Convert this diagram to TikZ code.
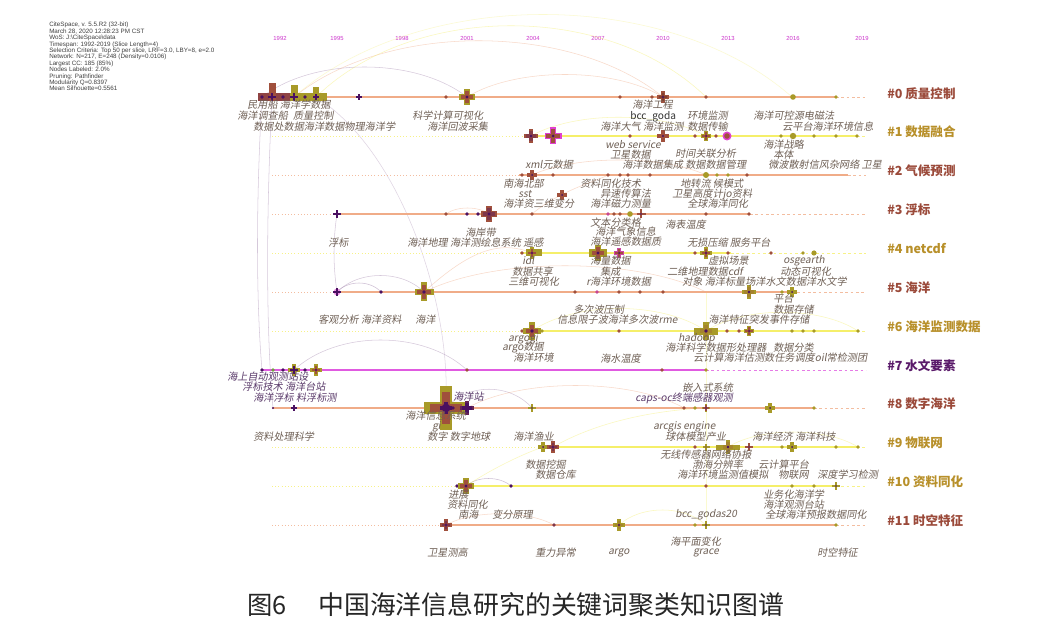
\documentclass[tikz,border=0pt]{standalone}
\usepackage{fontspec}
\setmainfont{Liberation Sans}
\newfontfamily\cjk{Noto Sans CJK SC}
\newfontfamily\labfont{Noto Sans CJK SC}[FakeSlant=0.18]
\definecolor{cS}{HTML}{F0AC88}
\definecolor{cY}{HTML}{F5EF6A}
\definecolor{cM}{HTML}{E05AE0}
\definecolor{cB}{HTML}{A0503C}
\definecolor{cO}{HTML}{A89A28}
\definecolor{cP}{HTML}{4A1060}
\definecolor{cMg}{HTML}{E040D0}
\definecolor{cG}{HTML}{70A040}
\definecolor{labc}{HTML}{6F6055}
\definecolor{labp}{HTML}{5A3A6A}
\definecolor{yrc}{HTML}{CC33CC}
\definecolor{hB}{HTML}{9B4A3A}
\definecolor{hO}{HTML}{B8902A}
\definecolor{hP}{HTML}{5A1A6A}
\newcounter{kwn}
\def\kr{0.32}
\newcommand\kw[4][labc]{\stepcounter{kwn}\node[kwlab,text=#1] (kw\arabic{kwn}) at (#2,#3) {#4};}
\newcommand\kcross[4]{\fill[#4] ({#1-(#3)},{#2-\kr*(#3)}) rectangle ({#1+(#3)},{#2+\kr*(#3)});
  \fill[#4] ({#1-\kr*(#3)},{#2-(#3)}) rectangle ({#1+\kr*(#3)},{#2+(#3)});}
\newcommand\kbig[5]{\kcross{#1}{#2}{#3}{#4}\kcross{#1}{#2}{0.72*(#3)}{#5}\fill[cP] (#1,#2) circle ({0.2*(#3)});}
\newcommand\kdot[3]{\fill[#3] (#1,#2) circle (1.8);}
\newcommand\krow[5]{\draw[#4!80,line width=0.4pt,dotted] (272,#1) -- (#2,#1);
  \draw[#4,line width=#5] (#2,#1) -- (#3,#1);
  \draw[#4!80,line width=0.4pt,dash pattern=on 2pt off 2pt] (#3,#1) -- (866,#1);}
\newcommand\karc[6]{\draw[arcline,#6] (#1,#2) .. controls ({#1+0.25*(#3-#1)},{#2-#5}) and ({#3-0.25*(#3-#1)},{#4-#5}) .. (#3,#4);}
\begin{document}
\begin{tikzpicture}[x=0.75pt,y=-0.75pt,
  kwlab/.style={anchor=west,inner sep=0pt,font=\labfont\fontsize{7.6}{8}\selectfont},
  hd/.style={anchor=west,inner sep=0pt,font=\cjk\bfseries\fontsize{9.4}{10}\selectfont},
  yr/.style={inner sep=0pt,font=\fontsize{4.4}{5}\selectfont,text=yrc},
  arcline/.style={line width=0.4pt,opacity=0.45}]
\useasboundingbox[fill=white] (0,0) rectangle (1060,620);

% header
\node[anchor=north west,align=left,inner sep=0pt,font=\fontsize{4.7}{4.8}\selectfont,text=black!75] (hdr) at (49,22)
{CiteSpace, v. 5.5.R2 (32-bit)\\March 28, 2020 12:28:23 PM CST\\WoS: J:\textbackslash CiteSpace\textbackslash data\\Timespan: 1992-2019 (Slice Length=4)\\Selection Criteria: Top 50 per slice, LRF=3.0, LBY=8, e=2.0\\Network: N=217, E=248 (Density=0.0106)\\Largest CC: 185 (85\%)\\Nodes Labeled: 2.0\%\\Pruning: Pathfinder\\Modularity Q=0.8397\\Mean Silhouette=0.5561};

% years
\foreach \yy/\xx in {1992/280,1995/337,1998/402,2001/467,2004/533,2007/598,2010/663,2013/728,2016/793,2019/862}
  \node[yr] (y\yy) at (\xx,38) {\yy};

% arcs
\karc{262}{97}{467}{97}{40}{cP!50}
\karc{294}{97}{663}{97}{75}{cS}
\karc{316}{97}{706}{97}{95}{cY}
\karc{294}{97}{792}{97}{110}{cY!70}
\karc{467}{97}{663}{97}{30}{cS}
\karc{531}{136}{706}{136}{25}{cY}
\karc{532}{175}{706}{175}{20}{cS}
\karc{337}{292}{381}{292}{12}{cP!60}
\karc{337}{292}{424}{292}{22}{cP!50}
\karc{446}{214}{489}{214}{8}{cS}
\karc{446}{408}{532}{408}{25}{cP!50}
\karc{467}{408}{684}{408}{30}{cS}
\karc{294}{370}{467}{370}{40}{cP!50}
\karc{466}{486}{511}{486}{10}{cP!60}
\karc{446}{525}{554}{525}{15}{cS}
\karc{619}{525}{706}{525}{20}{cY}
\karc{706}{331}{858}{331}{25}{cY}
\karc{728}{447}{858}{447}{20}{cY}
\karc{532}{331}{706}{331}{30}{cY}
\karc{424}{292}{706}{292}{35}{cS}
\draw[arcline,cS] (424,292) .. controls (470,250) and (500,240) .. (532,253);
\draw[arcline,cY] (466,486) .. controls (490,470) and (520,455) .. (543,447);
\draw[arcline,cP!50] (262,97) .. controls (256,200) and (256,300) .. (262,370);
\draw[arcline,cP!50] (272,97) .. controls (266,220) and (266,330) .. (273,408);
\draw[arcline,cP!50] (337,214) .. controls (333,240) and (333,265) .. (337,292);
\draw[arcline,cP!40] (316,97) .. controls (400,150) and (450,300) .. (446,400);
\draw[arcline,cY!70] (706,292) -- (706,525);
\draw[arcline,cY] (553,447) .. controls (600,420) and (660,410) .. (706,408);
\draw[arcline,cS] (532,214) .. controls (560,190) and (600,180) .. (608,175);

% rows
\krow{97}{258}{836}{cS}{1.4pt}
\krow{136}{531}{857}{cY}{2.2pt}
\krow{175}{519}{848}{cS}{1.4pt}
\krow{214}{337}{750}{cS}{1.4pt}
\krow{253}{520}{731}{cY}{2.2pt}
\krow{292}{337}{792}{cS}{1.4pt}
\krow{331}{525}{857}{cY}{2.2pt}
\krow{370}{261}{706}{cM}{1.4pt}
\krow{408}{273}{814}{cS}{1.4pt}
\krow{447}{540}{857}{cY}{2.2pt}
\krow{486}{456}{836}{cY}{2.2pt}
\krow{525}{446}{836}{cS}{1.4pt}

% row 0 nodes
\fill[cB!80!cP] (258,93) rectangle (292,101);
\fill[cO] (290,93) rectangle (327,101);
\fill[cB] (269,83) rectangle (276,101);
\fill[cO] (291,85) rectangle (298,101);
\fill[cO] (313,87) rectangle (319,101);
\kcross{272}{97}{4}{cP}\kcross{294}{97}{4}{cP}\kcross{316}{97}{3}{cP}
\kdot{262}{97}{cP}\kdot{283}{97}{cP}\kdot{305}{97}{cP}
\kcross{359}{97}{3}{cP}
\kdot{446}{97}{cB}
\kbig{467}{97}{8}{cO}{cB}
\kdot{620}{97}{cB}\kdot{652}{97}{cB}
\kbig{663}{97}{6}{cB}{cB!80!black}
\kdot{706}{97}{cB}
\fill[cO] (793,97) circle (2.8);
\kdot{836}{97}{cO}
% row 1
\kbig{531}{136}{7}{cB}{cB!70!cP}
\kcross{553}{136}{8.5}{cMg}\kcross{553}{136}{7}{cB}\fill[cP] (553,136) circle (1.5);
\kdot{630}{136}{cB}
\kbig{663}{136}{6}{cB}{cB}
\kdot{695}{136}{cB}
\kbig{706}{136}{5}{cO}{cB}
\kdot{716}{136}{cB}
\fill[cMg] (727,136) circle (4.5); \fill[cB] (727,136) circle (2.8);
\kdot{781}{136}{cO}
\fill[cO] (793,136) circle (3.2);
\kdot{814}{136}{cO}\kdot{836}{136}{cO}\kdot{857}{136}{cO}
% row 2
\kdot{522}{175}{cB}\kbig{532}{175}{5}{cB}{cB}\kdot{553}{175}{cB}
\kdot{608}{175}{cB}\kdot{620}{175}{cB}\kdot{628}{175}{cB}\kdot{650}{175}{cB}
\fill[cO] (706,175) circle (3);
\kdot{717}{175}{cO}\kdot{728}{175}{cO}\kdot{747}{175}{cB}
\kbig{562}{195}{5}{cB}{cB}
% row 3
\kcross{337}{214}{4}{cP}
\kdot{446}{214}{cB}\kdot{467}{214}{cP}\kdot{478}{214}{cP}
\kbig{489}{214}{8}{cB}{cB!60!cP}
\kdot{532}{214}{cB}\kdot{608}{214}{cMg!60!cB}\kdot{614}{214}{cB}\kdot{620}{214}{cB}
\fill[cO] (630,214) circle (2.8);
\kbig{641}{214}{4.5}{cB}{cB}
\kdot{706}{214}{cB}\kdot{749}{214}{cB}
% row 4
\kdot{522}{253}{cB}
\fill[cO] (526,249.5) rectangle (542,256.5);
\kbig{532}{253}{6}{cO}{cB}
\fill[cO] (589,249) rectangle (607,257);
\kbig{598}{253}{8}{cO}{cB}
\kbig{619}{253}{5}{cMg!70!cB}{cB}
\kdot{695}{253}{cB}
\kbig{706}{253}{6}{cO}{cB}
\kdot{728}{253}{cB}\kdot{771}{253}{cB}\kdot{803}{253}{cO}
\fill[cO] (814,253) circle (2.6);
% row 5
\fill[cMg!60] (337,292) circle (3.5);
\kcross{337}{292}{4}{cP}
\kdot{381}{292}{cP}
\kbig{424}{292}{9.5}{cO}{cB}
\kdot{575}{292}{cB}\kdot{597}{292}{cMg!60!cB}\kdot{619}{292}{cB}\kdot{640}{292}{cB}\kdot{663}{292}{cB}
\kbig{749}{292}{7}{cO}{cO!70!cB}
\kdot{782}{292}{cO}
\kbig{792}{292}{5}{cO}{cO}
% row 6
\kdot{522}{331}{cB}
\kbig{532}{331}{9}{cO}{cB}
\kdot{542}{331}{cO}\kdot{619}{331}{cB}\kdot{697}{331}{cB}
\fill[cO] (694,327.5) rectangle (718,334.5);
\kbig{706}{331}{9}{cO}{cO!70!cB}
\kdot{727}{331}{cB}\kdot{739}{331}{cB}
\kbig{749}{331}{5}{cO}{cB}
\kdot{792}{331}{cO}\kdot{803}{331}{cO}\kdot{814}{331}{cO}\kdot{858}{331}{cO}
% row 7
\kdot{262}{370}{cP}\kdot{273}{370}{cG}\kdot{283}{370}{cP}
\kbig{294}{370}{6}{cO}{cP}
\kdot{305}{370}{cP}
\kbig{316}{370}{6}{cO}{cB}
\kdot{467}{370}{cB}\kdot{662}{370}{cB}\kdot{706}{370}{cO}
% row 8
\fill[cP] (273,408) circle (1.2);
\kcross{294}{408}{3}{cP}
{\def\kr{0.27}\kbig{446}{408}{22}{cO}{cB}}
\kcross{446}{408}{6}{cP}
\kbig{467}{408}{7}{cP!70!cB}{cP}
\kdot{453}{408}{cP}
\kbig{532}{408}{4}{cO}{cO}
\kdot{684}{408}{cB}\kdot{695}{408}{cO}
\kbig{706}{408}{4}{cO}{cB}
\kbig{770}{408}{5}{cO}{cO}
\kdot{814}{408}{cO}
% row 9
\kbig{543}{447}{5}{cO}{cO}
\kbig{553}{447}{6}{cB}{cB!60!cP}
\kdot{695}{447}{cB}
\kbig{706}{447}{3.5}{cO}{cO}
\fill[cO] (716,444.5) rectangle (740,449.5);
\kbig{728}{447}{7}{cO}{cO!70!cB}
\kbig{749}{447}{4}{cB}{cB}
\kdot{782}{447}{cO}
\kbig{792}{447}{5}{cO}{cO}
\kdot{836}{447}{cO}\kdot{858}{447}{cO}
% row 10
\kdot{457}{486}{cP}
\kbig{466}{486}{8}{cO}{cB}
\kdot{511}{486}{cP}\kdot{706}{486}{cB}\kdot{792}{486}{cO}\kdot{814}{486}{cO}
\kbig{836}{486}{4}{cO}{cO}
% row 11
\kbig{446}{525}{6}{cB}{cB!60!cP}
\kdot{554}{525}{cB!60!cP}
\kbig{619}{525}{6}{cO}{cO!70!cB}
\kdot{695}{525}{cO}
\kbig{706}{525}{4}{cO}{cO}
\kdot{836}{525}{cO}

% labels row 0
\kw{247}{105}{民用船 海洋学数据}
\kw{237}{116}{海洋调查船\enspace 质量控制}
\kw{253}{127}{数据处数据海洋数据物理海洋学}
\kw{412}{116}{科学计算可视化}
\kw{427}{127}{海洋回波采集}
\kw{632}{105}{海洋工程}
\kw[black!80]{630}{117}{\cjk bcc\_goda}
\kw{600}{127}{海洋大气 海洋监测}
\kw{687}{116}{环境监测}
\kw{687}{127}{数据传输}
\kw{753}{116}{海洋可控源电磁法}
\kw{782}{127}{云平台海洋环境信息}
% row 1
\kw{605}{145}{web service}
\kw{610}{155}{卫星数据}
\kw{622}{165}{海洋数据集成 数据数据管理}
\kw{675}{154}{时间关联分析}
\kw{763}{145}{海洋战略}
\kw{773}{155}{本体}
\kw{768}{165}{微波散射信风杂网络 卫星}
\kw{525}{165}{xml元数据}
% row 2
\kw{503}{184}{南海北部}
\kw{518}{194}{sst}
\kw{503}{204}{海洋资三维变分}
\kw{580}{184}{资料同化技术}
\kw{600}{194}{异速传算法}
\kw{590}{204}{海洋磁力测量}
\kw{680}{184}{地转流 候模式}
\kw{672}{194}{卫星高度计jo资料}
\kw{687}{204}{全球海洋同化}
% row 3
\kw{590}{223}{文本分类格}
\kw{595}{232}{海洋气象信息}
\kw{590}{242}{海洋遥感数据质}
\kw{665}{225}{海表温度}
\kw{465}{233}{海岸带}
\kw{407}{243}{海洋地理 海洋测绘息系统 遥感}
\kw{328}{243}{浮标}
\kw{687}{243}{无损压缩 服务平台}
% row 4
\kw{522}{261}{idl}
\kw{512}{272}{数据共享}
\kw{508}{282}{三维可视化}
\kw{590}{261}{海量数据}
\kw{600}{272}{集成}
\kw{586}{282}{r海洋环境数据}
\kw{708}{261}{虚拟场景}
\kw{667}{272}{二维地理数据cdf}
\kw{682}{282}{对象 海洋标量场洋水文数据洋水文学}
\kw{783}{261}{osgearth}
\kw{780}{272}{动态可视化}
% row 5
\kw{318}{320}{客观分析 海洋资料}
\kw{415}{320}{海洋}
\kw{773}{299}{平台}
\kw{773}{310}{数据存储}
\kw{573}{310}{多次波压制}
\kw{557}{320}{信息限子波海洋多次波rme}
\kw{708}{320}{海洋特征突发事件存储}
% row 6
\kw{508}{339}{argogi}
\kw{502}{348}{argo数据}
\kw{513}{358}{海洋环境}
\kw{600}{359}{海水温度}
\kw{678}{339}{hadoop}
\kw{665}{348}{海洋科学数据形处理器}
\kw{773}{348}{数据分类}
\kw{693}{358}{云计算海洋估测数任务调度oil常检测团}
% row 7
\kw[labp]{227}{377}{海上自动观测站设}
\kw[labp]{242}{387}{浮标技术 海洋台站}
\kw[labp]{253}{398}{海洋浮标 料浮标测}
\kw{682}{388}{嵌入式系统}
\kw[labp]{635}{398}{caps-oc终端感器观测}
% row 8
\kw[labp]{453}{397}{海洋站}
\kw{405}{416}{海洋信息系统}
\kw{432}{427}{gi}
\kw{427}{437}{数字 数字地球}
\kw{253}{437}{资料处理科学}
\kw{513}{437}{海洋渔业}
\kw{653}{427}{arcgis engine}
\kw{665}{437}{球体模型产业}
\kw{752}{437}{海洋经济 海洋科技}
% row 9
\kw{660}{455}{无线传感器网络协报}
\kw{692}{465}{渤海分辨率}
\kw{677}{475}{海洋环境监测值模拟}
\kw{758}{465}{云计算平台}
\kw{778}{475}{物联网}
\kw{817}{475}{深度学习检测}
\kw{525}{465}{数据挖掘}
\kw{535}{475}{数据仓库}
% row 10
\kw{448}{495}{进展}
\kw{447}{505}{资料同化}
\kw{458}{515}{南海}
\kw{492}{515}{变分原理}
\kw{763}{495}{业务化海洋学}
\kw{763}{505}{海洋观测台站}
\kw{765}{515}{全球海洋预报数据同化}
\kw{675}{515}{bcc\_godas20}
% row 11
\kw{427}{553}{卫星测高}
\kw{535}{553}{重力异常}
\kw{608}{553}{argo}
\kw{670}{542}{海平面变化}
\kw{693}{553}{grace}
\kw{817}{553}{时空特征}

% cluster headings
\node[hd,text=hB] (c0) at (887,93.3) {\#0 质量控制};
\node[hd,text=hO] (c1) at (887,132.2) {\#1 数据融合};
\node[hd,text=hB] (c2) at (887,171) {\#2 气候预测};
\node[hd,text=hB] (c3) at (887,209.9) {\#3 浮标};
\node[hd,text=hO] (c4) at (887,248.7) {\#4 netcdf};
\node[hd,text=hB] (c5) at (887,287.6) {\#5 海洋};
\node[hd,text=hO] (c6) at (887,326.4) {\#6 海洋监测数据};
\node[hd,text=hP] (c7) at (887,365.3) {\#7 水文要素};
\node[hd,text=hB] (c8) at (887,404.1) {\#8 数字海洋};
\node[hd,text=hO] (c9) at (887,443) {\#9 物联网};
\node[hd,text=hO] (c10) at (887,481.8) {\#10 资料同化};
\node[hd,text=hB] (c11) at (887,520.7) {\#11 时空特征};

% caption
\node[anchor=west,inner sep=0pt,font=\cjk\fontsize{19}{20}\selectfont,text=black!85] (cap1) at (247,605) {图6};
\node[anchor=west,inner sep=0pt,font=\cjk\fontsize{19.4}{20}\selectfont,text=black!85] (cap2) at (318,605) {中国海洋信息研究的关键词聚类知识图谱};
\end{tikzpicture}
\end{document}
